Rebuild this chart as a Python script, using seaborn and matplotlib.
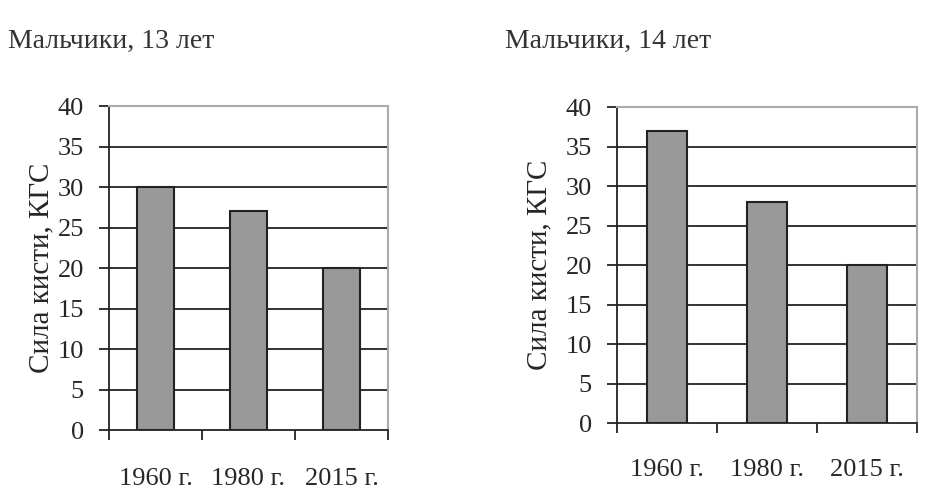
import matplotlib
matplotlib.use('Agg')
import matplotlib.pyplot as plt
import matplotlib.ticker as ticker
import seaborn as sns
import pandas as pd

years = ['1960 г.', '1980 г.', '2015 г.']
boys_13 = [30, 27, 20]
boys_14 = [37, 28, 20]
titles = ['Мальчики, 13 лет', 'Мальчики, 14 лет']
ylabel = 'Сила кисти, КГС'
yticks = [0, 5, 10, 15, 20, 25, 30, 35, 40]

sns.set_style('white')
plt.rcParams['font.family'] = ['Liberation Serif', 'DejaVu Serif']

fig = plt.figure(figsize=(9.46, 4.98), dpi=100)

# axes boxes, in figure fractions
boxes = [[0.1152, 0.1365, 0.2949, 0.6506], [0.6522, 0.1506, 0.3171, 0.6345]]
label_x = [-0.194, -0.217]
title_x = [8 / 946, 505 / 946]
label_pad = [27, 26]

for i, vals in enumerate([boys_13, boys_14]):
    ax = fig.add_axes(boxes[i])
    df = pd.DataFrame({'year': years, 'force': vals})
    sns.barplot(data=df, x='year', y='force', color='#999999', saturation=1,
                edgecolor='#222222', linewidth=1.5, width=0.4, ax=ax, zorder=3)
    ax.set_ylim(0, 40)
    ax.set_xlim(-0.5, len(years) - 0.5)
    ax.set_yticks(yticks)
    for y in yticks[1:-1]:
        ax.axhline(y, color='#222222', lw=1.3, zorder=1)

    # spines: dark left/bottom, light grey frame top/right
    for s in ['left', 'bottom']:
        ax.spines[s].set_color('#222222')
        ax.spines[s].set_linewidth(1.3)
    for s in ['top', 'right']:
        ax.spines[s].set_color('#aaaaaa')
        ax.spines[s].set_linewidth(1.5)
        ax.spines[s].set_visible(True)

    # category boundary ticks
    ax.xaxis.set_minor_locator(ticker.FixedLocator([-0.5, 0.5, 1.5, 2.5]))
    ax.tick_params(axis='x', which='minor', bottom=True, length=7, width=1.3, color='#222222')
    ax.tick_params(axis='x', which='major', bottom=True, length=0, pad=label_pad[i], labelsize=19)
    ax.tick_params(axis='y', which='major', left=True, length=7.5, width=1.3, color='#222222',
                   pad=10.5, labelsize=19)

    ax.set_xlabel('')
    ax.set_ylabel(ylabel, fontsize=21)
    ax.yaxis.set_label_coords(label_x[i], 0.5)

    fig.text(title_x[i], 1 - 48 / 498, titles[i], fontsize=20, color='#333333',
             ha='left', va='baseline')

fig.savefig('out.png', dpi=100)
